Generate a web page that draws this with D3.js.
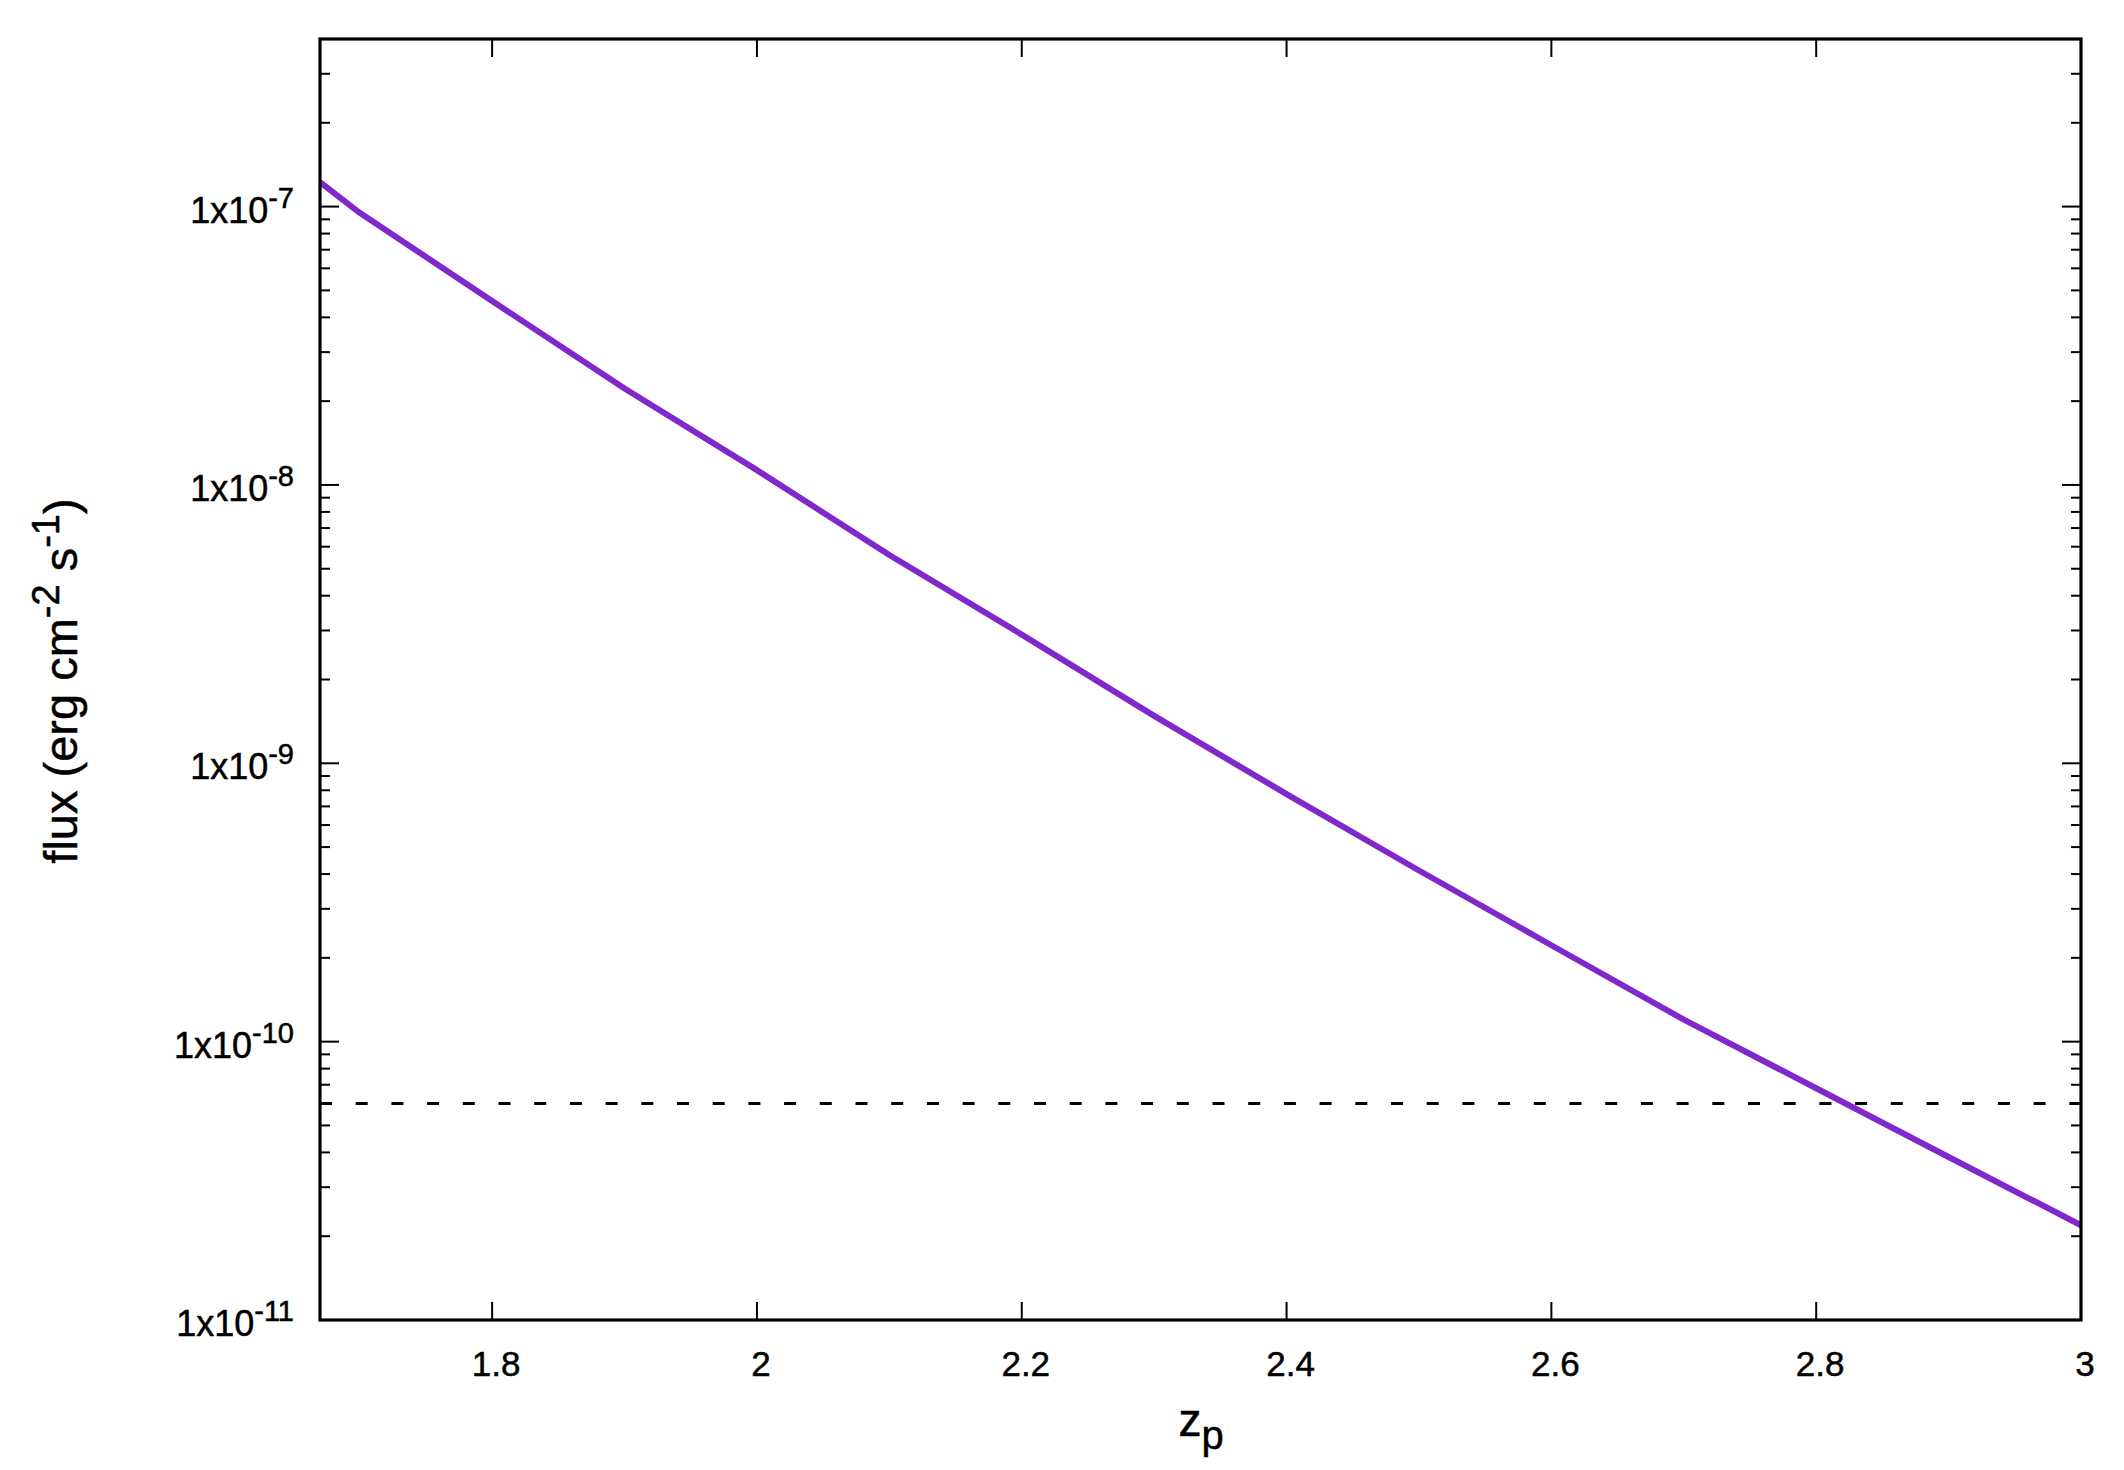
<!DOCTYPE html>
<html><head><meta charset="utf-8">
<script src="https://cdn.jsdelivr.net/npm/d3@7"></script>
<style>body{margin:0;background:#fff}text{font-family:"Liberation Sans",Arial,sans-serif;fill:#000;stroke:#000;stroke-width:0.5}</style>
</head><body><svg id="c" width="2124" height="1470"></svg>
<script>
const zp   = [1.67, 1.70, 1.80, 1.90, 2.00, 2.10, 2.20, 2.30, 2.40, 2.50, 2.60, 2.70, 2.80, 2.90, 3.00];
const flux = [1.224e-7, 9.5e-8, 4.58e-8, 2.22e-8, 1.13e-8, 5.6e-9, 2.9e-9, 1.48e-9, 7.75e-10, 4.12e-10, 2.22e-10, 1.2e-10, 6.8e-11, 3.85e-11, 2.19e-11];
const threshold = 6.0e-11;
const xTicks = [1.8, 2.0, 2.2, 2.4, 2.6, 2.8, 3.0];
const xTickLabels = ["1.8", "2", "2.2", "2.4", "2.6", "2.8", "3"];
const yTicks = [1e-11, 1e-10, 1e-9, 1e-8, 1e-7];
const yTickExp = ["-11", "-10", "-9", "-8", "-7"];

const L = 320, R = 2081, T = 39, B = 1320;
const svg = d3.select("#c");
const x = d3.scaleLinear().domain([1.67, 3]).range([L, R]);
const y = d3.scaleLog().domain([1e-11, 4e-7]).range([B, T]);

const minor = [];
for (let e = -11; e <= -7; e++) for (let m = 2; m <= 9; m++) { const v = m * Math.pow(10, e); if (v <= 4e-7) minor.push(v); }
const g = svg.append("g");
minor.forEach(v => {
  g.append("line").attr("x1", L).attr("x2", L + 10).attr("y1", y(v)).attr("y2", y(v)).attr("stroke", "#000").attr("stroke-width", 2);
  g.append("line").attr("x1", R).attr("x2", R - 10).attr("y1", y(v)).attr("y2", y(v)).attr("stroke", "#000").attr("stroke-width", 2);
});
yTicks.forEach((v, i) => {
  g.append("line").attr("x1", L).attr("x2", L + 19).attr("y1", y(v)).attr("y2", y(v)).attr("stroke", "#000").attr("stroke-width", 2);
  g.append("line").attr("x1", R).attr("x2", R - 19).attr("y1", y(v)).attr("y2", y(v)).attr("stroke", "#000").attr("stroke-width", 2);
  const t = g.append("text").attr("x", 294).attr("y", y(v) + 16).attr("text-anchor", "end").attr("font-size", 36);
  t.append("tspan").text("1x10");
  t.append("tspan").attr("dy", -15).attr("font-size", 29).text(yTickExp[i]);
});
xTicks.forEach((v, i) => {
  g.append("line").attr("x1", x(v)).attr("x2", x(v)).attr("y1", B).attr("y2", B - 18).attr("stroke", "#000").attr("stroke-width", 2);
  g.append("line").attr("x1", x(v)).attr("x2", x(v)).attr("y1", T).attr("y2", T + 18).attr("stroke", "#000").attr("stroke-width", 2);
  g.append("text").attr("x", x(v) + 4).attr("y", 1376).attr("text-anchor", "middle").attr("font-size", 35).text(xTickLabels[i]);
});

svg.append("line").attr("x1", L).attr("x2", R).attr("y1", y(threshold)).attr("y2", y(threshold))
  .attr("stroke", "#000").attr("stroke-width", 3).attr("stroke-dasharray", "12,23.7");

const line = d3.line().x((d, i) => x(zp[i])).y(d => y(d));
svg.append("path").attr("d", line(flux)).attr("fill", "none").attr("stroke", "#8028cc").attr("stroke-width", 6).attr("stroke-linejoin", "round");

svg.append("rect").attr("x", L).attr("y", T).attr("width", R - L).attr("height", B - T).attr("fill", "none").attr("stroke", "#000").attr("stroke-width", 3.2);

const xl = svg.append("text").attr("x", 1201).attr("y", 1436).attr("text-anchor", "middle").attr("font-size", 46);
xl.append("tspan").text("z");
xl.append("tspan").attr("dy", 13).attr("font-size", 40).text("p");

const yl = svg.append("text").attr("transform", "translate(77,681) rotate(-90)").attr("text-anchor", "middle").attr("font-size", 47);
yl.append("tspan").text("flux (erg cm");
yl.append("tspan").attr("dy", -18).attr("font-size", 38).text("-2");
yl.append("tspan").attr("dy", 18).text(" s");
yl.append("tspan").attr("dy", -18).attr("font-size", 38).text("-1");
yl.append("tspan").attr("dy", 18).text(")");
</script></body></html>
